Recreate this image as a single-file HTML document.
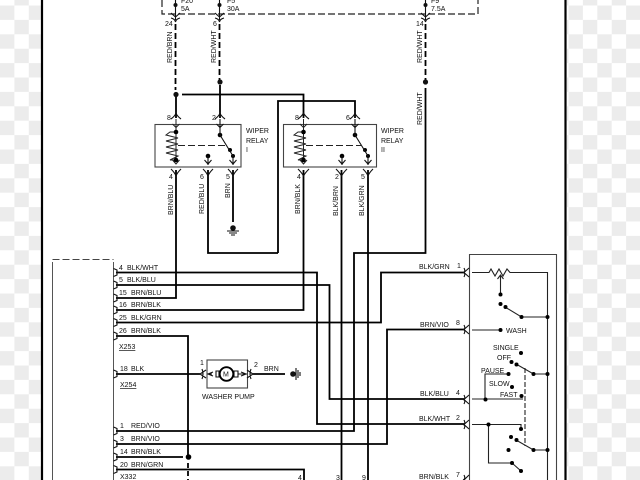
<!DOCTYPE html>
<html><head><meta charset="utf-8"><style>
html,body{margin:0;padding:0;background:#fff}
svg{display:block;filter:blur(.35px)}
text{font-family:"Liberation Sans",sans-serif;font-size:7px;fill:#111}
.w{fill:none;stroke:#000;stroke-width:1.8}
.t{fill:none;stroke:#222;stroke-width:1}
.b{fill:none;stroke:#444;stroke-width:1.1}
.c{fill:none;stroke:#111;stroke-width:1.1}
</style></head><body>
<svg width="640" height="480" viewBox="0 0 640 480" xmlns="http://www.w3.org/2000/svg">
<defs>
<pattern id="pl" width="28.8" height="28.8" patternUnits="userSpaceOnUse" x="0" y="5.5"><rect width="28.8" height="28.8" fill="#fff"/><rect width="14.4" height="14.4" fill="#ececec"/><rect x="14.4" y="14.4" width="14.4" height="14.4" fill="#ececec"/></pattern>
<pattern id="pr" width="28.8" height="28.8" patternUnits="userSpaceOnUse" x="568.5" y="5.5"><rect width="28.8" height="28.8" fill="#fff"/><rect width="14.4" height="14.4" fill="#ececec"/><rect x="14.4" y="14.4" width="14.4" height="14.4" fill="#ececec"/></pattern>
</defs>
<rect width="640" height="480" fill="#fff"/>
<rect x="0" y="0" width="42" height="480" fill="url(#pl)"/>
<rect x="567" y="0" width="73" height="480" fill="url(#pr)"/>
<path d="M42 0V480M565.500 0V480" fill="none" stroke="#000" stroke-width="2.2"/>

<!-- fuse box -->
<path d="M162 0V14H478V0" fill="none" stroke="#222" stroke-width="1.2" stroke-dasharray="7 3"/>
<g fill="#111"><circle cx="175.500" cy="5" r="2"/><circle cx="219.500" cy="5" r="2"/><circle cx="425.500" cy="5" r="2"/></g>
<path class="c" d="M175.500 0V20M219.500 0V20M425.500 0V20M171 13L175.500 17L180 13M215 13L219.500 17L224 13M421 13L425.500 17L430 13M171 18Q175 19 175.500 22Q176 19 180 18M215 18Q219 19 219.500 22Q220 19 224 18M421 18Q425 19 425.500 22Q426 19 430 18"/>
<text x="181" y="3">F20</text><text x="181" y="11">5A</text><text x="227" y="3">F5</text><text x="227" y="11">30A</text><text x="431" y="3">F9</text><text x="431" y="11">7.5A</text>
<text x="165" y="26">24</text><text x="213" y="26">6</text><text x="416" y="26">14</text>
<!-- dashed feeds -->
<path class="w" stroke-dasharray="6 3" d="M175.500 24V90M219.500 24V80M425.500 24V80"/>
<g fill="#111"><circle cx="176" cy="94.500" r="2.600"/><circle cx="220" cy="82" r="2.600"/><circle cx="425.500" cy="82" r="2.600"/></g>
<g transform="translate(172,63) rotate(-90)"><text>RED/BRN</text></g>
<g transform="translate(216,63) rotate(-90)"><text>RED/WHT</text></g>
<g transform="translate(422,63) rotate(-90)"><text>RED/WHT</text></g>
<g transform="translate(422,125) rotate(-90)"><text>RED/WHT</text></g>

<!-- main wires -->
<path class="w" d="M176 97V118M220 85V118M182 94.500H303.500V118M278 253V101H355V118M425.500 88V253H354V431H116M208 170V253H278M176 170V298H116M303.500 170V310H116M341.500 170V480M368 170V480M233 170V222"/>
<path class="w" d="M116 272.500H317V424H465M116 285H329.500V399H465M116 322.500H381V272.500H465M116 336H188V457M116 374H200M116 444H387V329.500H465M116 457H183M116 469.500H304V480M253 374H285" />
<path class="w" d="M188 463V480" stroke-dasharray="5 3"/>

<!-- relays -->
<rect class="b" x="155" y="124.500" width="86" height="42.500"/>
<rect class="b" x="283.500" y="124.500" width="93" height="42.500"/>
<path class="c" d="M171 119Q175 116 176 113Q177 116 181 119M215 119Q219 116 220 113Q221 116 225 119M298 119Q302 116 303.500 113Q305 116 309 119M350 119Q354 116 355 113Q356 116 360 119"/>
<path class="c" d="M171 169Q175 173 176 176Q177 173 181 169M203 169Q207 173 208 176Q209 173 213 169M228 169Q232 173 233 176Q234 173 238 169M298 169Q302 173 303.500 176Q305 173 309 169M336 169Q340 173 341.500 176Q343 173 347 169M363 169Q367 173 368 176Q369 173 373 169"/>
<path class="t" d="M176 119V162M176 132H170L166 135L178 138L166 141L178 144L166 147L178 150L166 153L178 156L170 160H176M172.500 124L176 127.500L179.500 124M172.500 160L176 164L179.500 160"/>
<path class="t" d="M303.500 119V162M303.500 132H298L294 135L306 138L294 141L306 144L294 147L306 150L294 153L306 156L298 160H303.500M300 124L303.500 127.500L307 124M300 160L303.500 164L307 160"/>
<g fill="#000"><circle cx="176" cy="132" r="2.300"/><circle cx="176" cy="160" r="2.300"/><circle cx="303.500" cy="132" r="2.300"/><circle cx="303.500" cy="160" r="2.300"/><circle cx="220" cy="135" r="2.300"/><circle cx="230" cy="150" r="2"/><circle cx="233" cy="156" r="2"/><circle cx="355" cy="135" r="2.300"/><circle cx="365" cy="150" r="2"/><circle cx="368" cy="156" r="2"/><circle cx="208" cy="156" r="2.300"/><circle cx="342" cy="156" r="2.300"/></g>
<path class="c" d="M220 119V135L233 156V165M355 119V135L368 156V165M208 156V165M342 156V165M216.500 124L220 127.500L223.500 124M351.500 124L355 127.500L358.500 124M229.500 160L233 164L236.500 160M204.500 160L208 164L211.500 160M364.500 160L368 164L371.500 160M338.500 160L342 164L345.500 160"/>
<path d="M178 145.500H228M306 145.500H362" fill="none" stroke="#222" stroke-width="1.100" stroke-dasharray="7 3"/>
<text x="167" y="120">8</text><text x="212" y="120">2</text><text x="295" y="120">8</text><text x="346" y="120">6</text>
<text x="169" y="179">4</text><text x="200" y="179">6</text><text x="226" y="179">5</text><text x="297" y="179">4</text><text x="335" y="179">2</text><text x="361" y="179">5</text>
<text x="246" y="133">WIPER</text><text x="246" y="143">RELAY</text><text x="246" y="152">I</text>
<text x="381" y="133">WIPER</text><text x="381" y="143">RELAY</text><text x="381" y="152">II</text>
<g transform="translate(173,215) rotate(-90)"><text>BRN/BLU</text></g>
<g transform="translate(204,214) rotate(-90)"><text>RED/BLU</text></g>
<g transform="translate(230,198) rotate(-90)"><text>BRN</text></g>
<g transform="translate(300,214) rotate(-90)"><text>BRN/BLK</text></g>
<g transform="translate(338,216) rotate(-90)"><text>BLK/BRN</text></g>
<g transform="translate(364,216) rotate(-90)"><text>BLK/GRN</text></g>
<circle cx="233" cy="228" r="2.800" fill="#111"/>
<path class="c" d="M227 231H239M229 233H237M231 235H235"/>

<!-- left connector -->
<path d="M52.500 480V262M113.500 262V480" fill="none" stroke="#555" stroke-width="1"/>
<path d="M52.500 259.500H113.500" fill="none" stroke="#444" stroke-width="1.100" stroke-dasharray="7 3"/>
<path class="c" d="M113.500 268.500L117 270V275L113.500 276.500M113.500 281L117 282.500V287.500L113.500 289M113.500 294L117 295.500V300.500L113.500 302M113.500 306L117 307.500V312.500L113.500 314M113.500 318.500L117 320V325L113.500 326.500M113.500 332L117 333.500V338.500L113.500 340M113.500 370L117 371.500V376.500L113.500 378M113.500 427L117 428.500V433.500L113.500 435M113.500 440L117 441.500V446.500L113.500 448M113.500 453L117 454.500V459.500L113.500 461M113.500 465.500L117 467V472L113.500 473.500"/>
<text x="119" y="270">4</text><text x="127" y="270">BLK/WHT</text>
<text x="119" y="282">5</text><text x="127" y="282">BLK/BLU</text>
<text x="119" y="295">15</text><text x="131" y="295">BRN/BLU</text>
<text x="119" y="307">16</text><text x="131" y="307">BRN/BLK</text>
<text x="119" y="320">25</text><text x="131" y="320">BLK/GRN</text>
<text x="119" y="333">26</text><text x="131" y="333">BRN/BLK</text>
<text x="119" y="349" text-decoration="underline">X253</text>
<text x="120" y="371">18</text><text x="131" y="371">BLK</text>
<text x="120" y="387" text-decoration="underline">X254</text>
<text x="120" y="428">1</text><text x="131" y="428">RED/VIO</text>
<text x="120" y="441">3</text><text x="131" y="441">BRN/VIO</text>
<text x="120" y="454">14</text><text x="131" y="454">BRN/BLK</text>
<text x="120" y="467">20</text><text x="131" y="467">BRN/GRN</text>
<text x="120" y="479" text-decoration="underline">X332</text>
<text x="298" y="480">4</text><text x="336" y="480">3</text><text x="362" y="480">9</text>
<circle cx="188.500" cy="457" r="2.800" fill="#000"/>

<!-- washer pump -->
<rect class="b" x="207" y="360" width="40.500" height="28"/>
<path class="c" d="M202 369Q204 374 202 379M206 370L200 374L206 378M251 369Q249 374 251 379M247 370L253 374L247 378M207 374H212M216 371H219V377H216ZM234 371H238V377H234ZM238 374H247"/>
<path class="c" d="M213 372L208 374L213 376M241 372L246 374L241 376"/>
<circle cx="226.500" cy="374" r="6.800" fill="#fff" stroke="#000" stroke-width="1.900"/>
<text x="223" y="376.500">M</text>
<text x="200" y="365">1</text><text x="254" y="367">2</text><text x="264" y="371">BRN</text>
<text x="202" y="399">WASHER PUMP</text>
<circle cx="293" cy="374" r="2.800" fill="#111"/>
<path class="c" d="M296 368V380M298 370V378M300 372V376"/>

<!-- switch -->
<path class="b" d="M469.500 480V254.500H556.500V480"/>
<path class="c" d="M464 268Q466 272 463 272.500Q466 273 464 277M469 268L464 272.500L469 277M464 325Q466 329 463 329.500Q466 330 464 334M469 325L464 329.500L469 334M464 395Q466 399 463 399.500Q466 400 464 404M469 395L464 399.500L469 404M464 420Q466 424 463 424.500Q466 425 464 429M469 420L464 424.500L469 429M464 475Q466 479 463 480M469 475L464 480"/>
<g fill="none" stroke="#222" stroke-width="1.100">
<path d="M472 272.500H489L491 269L495 276L499 269L503 276L507 269L510 272.500H547.500V480"/>
<path d="M500.500 276V294M497.500 279L500.500 275L503.500 279"/>
<path d="M505 307L521.500 317H547.500M472 330H500.500"/>
<path d="M516 364L533.500 374H547.500M508 374H485V399M472 399H523"/>
<path d="M472 424.500H521V429M488.500 424.500V463H512L521 471"/>
<path d="M516 440L533.500 450H547.500"/>
<path d="M525 368V446" stroke-dasharray="5 2"/>
</g>
<g fill="#000"><circle cx="500.500" cy="294.500" r="2"/><circle cx="500.500" cy="304" r="2"/><circle cx="505.500" cy="307" r="2"/><circle cx="521.500" cy="317" r="2"/><circle cx="547.500" cy="317" r="2"/><circle cx="500.500" cy="330" r="2"/><circle cx="521" cy="353" r="2"/><circle cx="511.500" cy="362" r="2"/><circle cx="516.500" cy="364.500" r="2"/><circle cx="533.500" cy="374" r="2"/><circle cx="547.500" cy="374" r="2"/><circle cx="508.500" cy="374" r="2"/><circle cx="512" cy="387" r="2"/><circle cx="521.500" cy="396" r="2"/><circle cx="485.500" cy="399.500" r="2"/><circle cx="488.500" cy="424.500" r="2"/><circle cx="521" cy="429" r="2"/><circle cx="511" cy="437" r="2"/><circle cx="516.500" cy="440" r="2"/><circle cx="533.500" cy="450" r="2"/><circle cx="547.500" cy="450" r="2"/><circle cx="508.500" cy="450" r="2"/><circle cx="512" cy="463" r="2"/><circle cx="521" cy="471" r="2"/></g>
<text x="419" y="269">BLK/GRN</text><text x="457" y="268">1</text>
<text x="420" y="327">BRN/VIO</text><text x="456" y="325">8</text>
<text x="420" y="396">BLK/BLU</text><text x="456" y="395">4</text>
<text x="419" y="421">BLK/WHT</text><text x="456" y="420">2</text>
<text x="419" y="479">BRN/BLK</text><text x="456" y="477">7</text>
<text x="506" y="333">WASH</text>
<text x="493" y="350">SINGLE</text><text x="497" y="360">OFF</text>
<text x="481" y="373">PAUSE</text><text x="489" y="386">SLOW</text><text x="500" y="397">FAST</text>
</svg>
</body></html>
